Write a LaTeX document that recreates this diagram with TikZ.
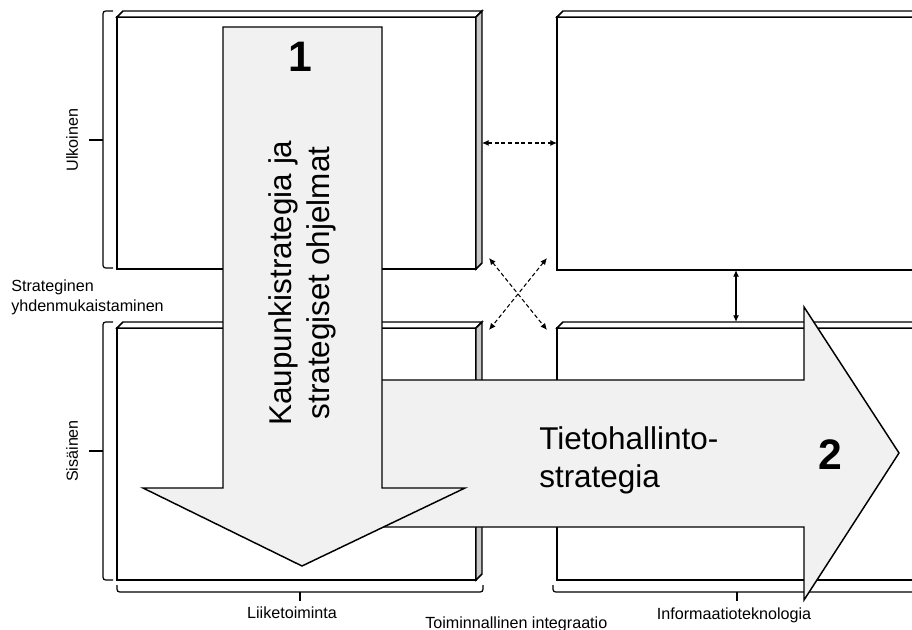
\documentclass[tikz,border=0pt]{standalone}
\usepackage{fontspec}
\setmainfont{Liberation Sans}
\usetikzlibrary{arrows.meta}
\definecolor{arrowfill}{RGB}{241,241,241}
\definecolor{sideface}{RGB}{200,200,200}
\tikzset{
  boxline/.style={draw=black, line width=1.1pt, line join=miter},
  frontface/.style={boxline, fill=white},
  topface/.style={boxline, fill=white},
  rightface/.style={boxline, fill=sideface},
  bracket/.style={draw=black, line width=0.9pt, rounded corners=2pt},
  bigarrow/.style={draw=black, line width=1.1pt, fill=arrowfill, line join=miter},
  linkdash/.style={draw=black, line width=0.8pt, dashed, dash pattern=on 3pt off 2pt,
    {Latex[length=5pt,width=4.5pt]}-{Latex[length=5pt,width=4.5pt]}},
  linksolid/.style={draw=black, line width=0.9pt,
    {Latex[length=5pt,width=4.5pt]}-{Latex[length=5pt,width=4.5pt]}},
  smalllabel/.style={inner sep=0pt, font=\fontsize{12.1}{14.4}\selectfont},
  bigtext/.style={inner sep=0pt, font=\fontsize{23.6}{28.5}\selectfont},
  numlabel/.style={inner sep=0pt, font=\fontsize{32}{36}\selectfont\bfseries},
}
\begin{document}
\begin{tikzpicture}[x=0.75pt, y=-0.75pt]
\useasboundingbox (0,0) rectangle (912,630);
\clip (0,0) rectangle (912,630);
\fill[white] (0,0) rectangle (912,630);

% --- upper left block
\path[frontface] (117,17) rectangle (476,269);
\path[topface] (117,17) -- (123,11) -- (482,11) -- (476,17) -- cycle;
\path[rightface] (476,17) -- (482,11) -- (482,263) -- (476,269) -- cycle;
% --- lower left block
\path[frontface] (117,328) rectangle (476,580);
\path[topface] (117,328) -- (123,322) -- (482,322) -- (476,328) -- cycle;
\path[rightface] (476,328) -- (482,322) -- (482,574) -- (476,580) -- cycle;
% --- upper right block (runs off the right edge)
\path[frontface] (557,17) rectangle (960,270);
\path[topface] (557,17) -- (563,11) -- (966,11) -- (960,17) -- cycle;
% --- lower right block
\path[frontface] (557,328) rectangle (960,580);
\path[topface] (557,328) -- (563,322) -- (966,322) -- (960,328) -- cycle;

% --- brackets on the left
\path[bracket] (113,11) -- (103,11) -- (103,268) -- (113,268);
\path[bracket] (103,140) -- (89,140);
\path[bracket] (113,322) -- (103,322) -- (103,580) -- (113,580);
\path[bracket] (103,451) -- (89,451);
% --- brackets at the bottom
\path[bracket] (117,585) -- (117,592) -- (483,592) -- (483,585);
\path[bracket] (300,592) -- (300,601);
\path[bracket] (553,585) -- (553,592) -- (921,592) -- (921,585);
\path[bracket] (737,592) -- (737,601);

% --- links between the blocks
\coordinate (ulR) at (482,143);
\coordinate (urL) at (557,143);
\coordinate (xUL) at (489,258);
\coordinate (xUR) at (547,258);
\coordinate (xLL) at (489,330);
\coordinate (xLR) at (547,330);
\coordinate (urB) at (736,270);
\coordinate (lrT) at (736,322);
\draw[linkdash] (ulR) -- (urL);
\draw[linkdash] (xUL) -- (xLR);
\draw[linkdash] (xUR) -- (xLL);
\draw[linksolid] (urB) -- (lrT);

% --- horizontal block arrow
\path[bigarrow] (330,380) -- (804,380) -- (804,307) -- (899,453) -- (804,600)
  -- (804,527) -- (330,527) -- cycle;
% --- vertical block arrow
\path[bigarrow] (223,27) -- (382,27) -- (382,488) -- (465,488) -- (302,566)
  -- (143,488) -- (223,488) -- cycle;

% --- texts
\node[numlabel] (n1) at (300,57) {1};
\node[numlabel] (n2) at (830,455) {2};
\node[bigtext, rotate=90, align=center] (city) at (302,283)
  {Kaupunkistrategia ja\\strategiset ohjelmat};
\node[bigtext, anchor=north west, align=left] (ict) at (539,426)
  {Tietohallinto-\\strategia};

\node[smalllabel, rotate=90] (ext) at (72,140) {Ulkoinen};
\node[smalllabel, rotate=90] (int) at (72,451) {Sisäinen};
\node[smalllabel, anchor=north west, align=left] (align) at (11,280)
  {Strateginen\\yhdenmukaistaminen};
\node[smalllabel, anchor=base] (biz) at (292,618) {Liiketoiminta};
\node[smalllabel, anchor=base] (it) at (734,619) {Informaatioteknologia};
\node[smalllabel, anchor=base west] (integ) at (425,628) {Toiminnallinen integraatio};
\end{tikzpicture}
\end{document}
